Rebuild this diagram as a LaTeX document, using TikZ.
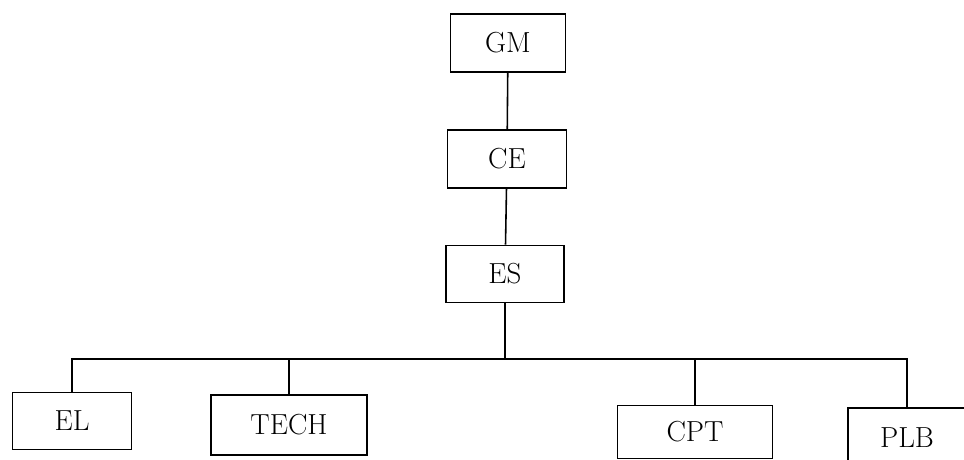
\documentclass[tikz,border=0pt]{standalone}
\usepackage{tikz}
\usetikzlibrary{positioning}

\begin{document}
\begin{tikzpicture}[x=0.02cm, y=-0.02cm, line width=0.9pt,
    post/.style={draw, rectangle, inner sep=2pt, font=\fontsize{16.5}{19}\selectfont}]
        \useasboundingbox (0,0) rectangle (964,460);

        \node[post, minimum width=2.3cm,  minimum height=1.16cm] (gm)   at (508,43)  {GM} ;
        \node[post, minimum width=2.38cm, minimum height=1.16cm] (ce)   at (507,159) {CE} ;
        \node[post, minimum width=2.36cm, minimum height=1.14cm] (es)   at (505,274) {ES} ;

        \node[post, minimum width=2.38cm, minimum height=1.14cm] (el)   at (72,421)  {EL} ;
        \node[post, minimum width=3.12cm, minimum height=1.2cm]  (tech) at (289,425) {TECH} ;
        \node[post, minimum width=3.1cm,  minimum height=1.06cm] (cpt)  at (695,432) {CPT} ;
        \node[post, minimum width=2.36cm, minimum height=1.2cm]  (plb)  at (907,438) {PLB} ;

        \coordinate (bus) at (505,359);

        \draw (gm) -- (ce);
        \draw (ce) -- (es);
        \draw (es) -- (bus);
        \draw (el.north) -- (el.north |- bus) -- (plb.north |- bus) -- (plb.north);
        \draw (tech.north) -- (tech.north |- bus);
        \draw (cpt.north) -- (cpt.north |- bus);

    \end{tikzpicture}
\end{document}
